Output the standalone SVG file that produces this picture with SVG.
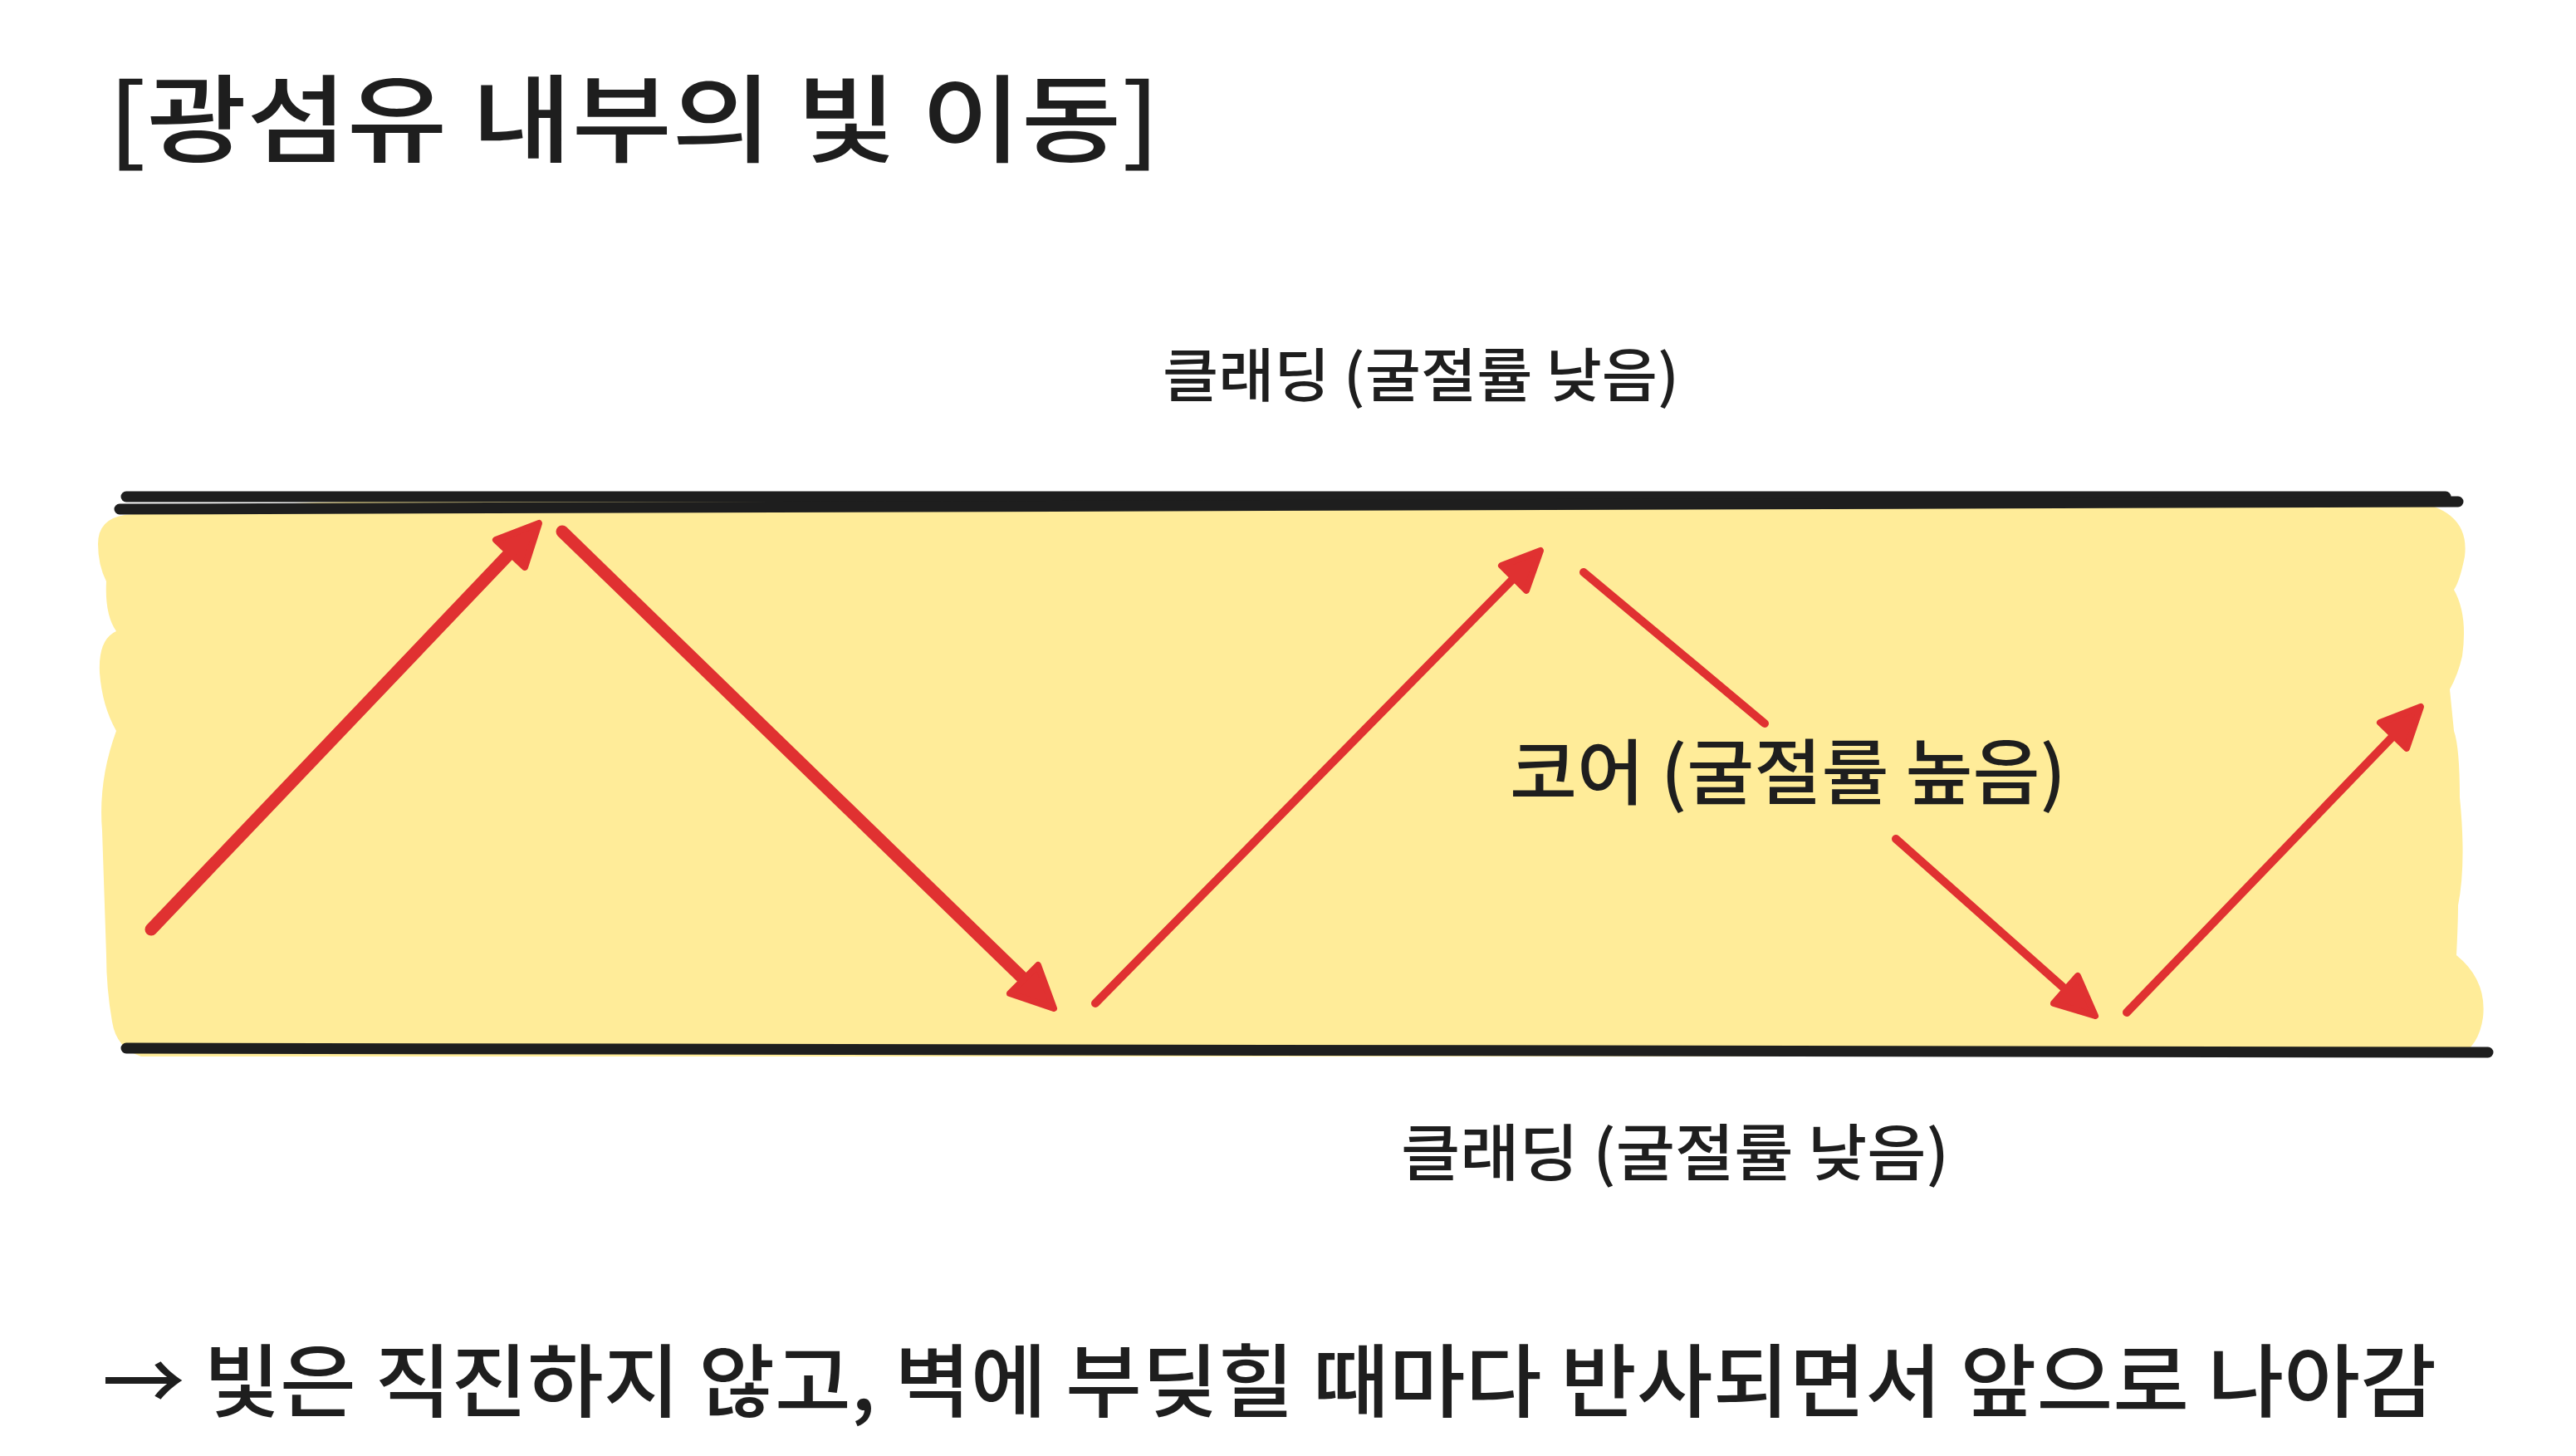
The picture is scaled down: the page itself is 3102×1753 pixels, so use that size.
<svg xmlns="http://www.w3.org/2000/svg" width="3102" height="1753" viewBox="0 0 3102 1753">
<style>
  .t { font-family: "Noto Sans CJK KR", "Noto Sans", sans-serif; fill: #1e1e1e; font-weight: 500; }
  .wall { stroke: #1e1e1e; stroke-width: 13; stroke-linecap: round; fill: none; }
  .ray { stroke: #e03131; stroke-linecap: round; fill: none; }
  .head { fill: #e03131; stroke: #e03131; stroke-width: 8; stroke-linejoin: round; }
</style>
<rect x="0" y="0" width="3102" height="1753" fill="#ffffff"/>

<g id="core">
  <path d="M 150 620 Q 300 606 420 604 L 2900 603 Q 2975 612 2968 670 Q 2962 700 2955 710 Q 2972 740 2965 790 Q 2960 812 2950 830 L 2955 880 Q 2962 900 2962 960 Q 2970 1040 2960 1090 Q 2960 1110 2958 1150 Q 2995 1180 2990 1225 Q 2985 1260 2960 1272 L 170 1272 Q 140 1262 135 1230 Q 128 1190 128 1150 L 123 1000 Q 118 940 140 880 Q 123 850 120 810 Q 118 770 140 760 Q 126 740 128 700 Q 118 680 118 655 Q 118 625 150 620 Z" fill="#ffec99"/>
  <text class="t" x="1818" y="962" font-size="86" textLength="670" lengthAdjust="spacingAndGlyphs">코어 (굴절률 높음)</text>
</g>

<g id="cladding-top">
  <line class="wall" x1="152" y1="598" x2="2945" y2="598"/>
  <line class="wall" x1="144" y1="613" x2="2960" y2="604"/>
  <text class="t" x="1400" y="478" font-size="70" textLength="622" lengthAdjust="spacingAndGlyphs">클래딩 (굴절률 낮음)</text>
</g>

<g id="cladding-bottom">
  <line class="wall" x1="152" y1="1262" x2="2996" y2="1267"/>
  <text class="t" x="1687" y="1415" font-size="74" textLength="660" lengthAdjust="spacingAndGlyphs">클래딩 (굴절률 낮음)</text>
</g>

<g id="title">
  <text class="t" x="130" y="186" font-size="115" textLength="1267" lengthAdjust="spacingAndGlyphs">[광섬유 내부의 빛 이동]</text>
</g>

<g id="caption">
  <text class="t" x="123" y="1698" font-size="96" textLength="2811" lengthAdjust="spacingAndGlyphs">→ 빛은 직진하지 않고, 벽에 부딪힐 때마다 반사되면서 앞으로 나아감</text>
</g>

<g id="connectors">
  <line class="ray" stroke-width="15" x1="182" y1="1119" x2="614" y2="666"/>
  <polygon class="head" points="649,630 632,683 597,650"/>
  <line class="ray" stroke-width="15" x1="677" y1="640" x2="1233" y2="1179"/>
  <polygon class="head" points="1269,1214 1216,1196 1250,1162"/>
  <line class="ray" stroke-width="10" x1="1319" y1="1208" x2="1823" y2="696"/>
  <polygon class="head" points="1855,663 1838,711 1808,681"/>
  <line class="ray" stroke-width="10" x1="1907" y1="689" x2="2125" y2="871"/>
  <line class="ray" stroke-width="10" x1="2283" y1="1010" x2="2487" y2="1191"/>
  <polygon class="head" points="2523,1223 2473,1208 2502,1175"/>
  <line class="ray" stroke-width="10" x1="2561" y1="1219" x2="2882" y2="886"/>
  <polygon class="head" points="2915,851 2898,901 2866,870"/>
</g>
</svg>
